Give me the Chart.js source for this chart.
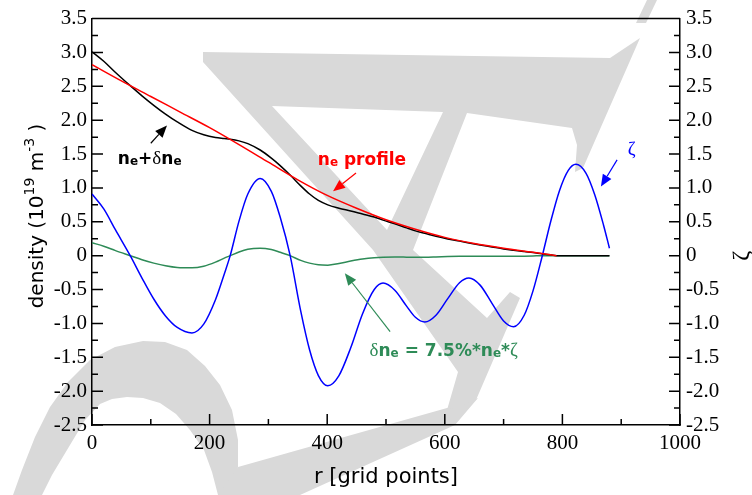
<!DOCTYPE html>
<html>
<head>
<meta charset="utf-8">
<script src="https://cdn.jsdelivr.net/npm/chart.js@4.4.1/dist/chart.umd.min.js"></script>
<style>
  html, body { margin: 0; padding: 0; background: #fff; }
  canvas { display: block; }
</style>
</head>
<body>
<canvas id="myChart" width="752" height="495"></canvas>
<script>
// ne profile (red)
const rProfile = [0, 50, 100, 150, 200, 250, 300, 350, 400, 450, 500, 550, 600, 650, 700, 750, 790];
const neProfile = [2.82, 2.58, 2.35, 2.12, 1.89, 1.64, 1.38, 1.12, 0.89, 0.70, 0.53, 0.39, 0.27, 0.18, 0.11, 0.05, 0.0];

// grid points used for zeta, delta ne and ne + delta ne
const rGrid = [0, 20, 40, 65, 85, 105, 125, 145, 170, 190,
  210, 225, 235, 250, 265, 286, 305, 320, 337, 355,
  370, 385, 401, 420, 440, 460, 480, 495, 515, 535,
  550, 566, 585, 605, 625, 641, 660, 680, 700, 717,
  735, 750, 765, 780, 795, 810, 823, 840, 855, 870, 880];

const zeta = [0.91, 0.69, 0.38, 0.0, -0.33, -0.64, -0.89, -1.06, -1.14, -1.01,
  -0.65, -0.27, 0.0, 0.51, 0.91, 1.14, 0.95, 0.57, 0.0, -0.82,
  -1.39, -1.77, -1.92, -1.77, -1.36, -0.86, -0.50, -0.405, -0.51, -0.745,
  -0.91, -0.98, -0.88, -0.635, -0.40, -0.33, -0.435, -0.70, -0.965, -1.05,
  -0.88, -0.52, -0.03, 0.50, 0.96, 1.26, 1.35, 1.22, 0.90, 0.45, 0.11];

const deltaNe = [0.19, 0.14, 0.075, 0.0, -0.06, -0.11, -0.15, -0.175, -0.18, -0.155,
  -0.095, -0.036, 0.0, 0.055, 0.095, 0.11, 0.09, 0.05, 0.0, -0.07,
  -0.11, -0.135, -0.14, -0.115, -0.08, -0.05, -0.03, -0.022, -0.02, -0.022,
  -0.024, -0.024, -0.02, -0.014, -0.01, -0.008, -0.008, -0.009, -0.01, -0.009,
  -0.007, -0.004, 0.0, 0.0, 0.0, 0.0, 0.0, 0.0, 0.0, 0.0, 0.0];

const neTotal = [3.01, 2.87, 2.705, 2.51, 2.36, 2.22, 2.09, 1.975, 1.85, 1.785,
  1.745, 1.73, 1.72, 1.695, 1.655, 1.56, 1.44, 1.33, 1.19, 1.03,
  0.91, 0.815, 0.75, 0.70, 0.66, 0.615, 0.57, 0.525, 0.47, 0.41,
  0.366, 0.33, 0.286, 0.247, 0.215, 0.188, 0.158, 0.129, 0.10, 0.08,
  0.061, 0.046, 0.028, 0.012, 0.0, 0.0, 0.0, 0.0, 0.0, 0.0, 0.0];

// axis ranges and tick spacing
const xRange = [0, 1000];
const yRange = [-2.5, 3.5];
const xMajor = 200, xMinor = 100;
const yMajor = 0.5, yMinor = 0.25;

const GREEN = '#2e8b57';
const TICK_FONT = 'Liberation Serif';
const SANS = 'DejaVu Sans';

function pairs(xs, ys) {
  return xs.map((x, i) => ({ x: x, y: ys[i] }));
}

// draw a run of text pieces with mixed size/weight, returns width
function richText(ctx, x, y, parts, measureOnly) {
  let cx = x;
  parts.forEach(p => {
    ctx.font = p.font;
    if (!measureOnly) ctx.fillText(p.t, cx, y + (p.dy || 0));
    cx += ctx.measureText(p.t).width;
  });
  return cx - x;
}

const B = 'bold 17px "' + SANS + '"';
const S = 'bold 12px "' + SANS + '"';
const G = '19px "Liberation Serif"';

const notes = [
  { color: '#000', at: [44, 1.35], tail: [100, 1.66], head: [127.5, 1.92],
    parts: [{ t: 'n', font: B }, { t: 'e', font: S, dy: 1 }, { t: '+', font: B },
            { t: 'δ', font: G }, { t: 'n', font: B }, { t: 'e', font: S, dy: 1 }] },
  { color: '#ff0000', at: [384, 1.34], tail: [449, 1.22], head: [410, 0.95],
    parts: [{ t: 'n', font: B }, { t: 'e', font: S, dy: 1 }, { t: ' profile', font: B }] },
  { color: '#0000ff', at: [911, 1.49], tail: [893, 1.415], head: [865.5, 1.02],
    parts: [{ t: 'ζ', font: G }] },
  { color: GREEN, at: [472, -1.475], tail: [507, -1.12], head: [430, -0.26],
    parts: [{ t: 'δ', font: G }, { t: 'n', font: B }, { t: 'e', font: S, dy: 1 },
            { t: ' = 7.5%*', font: B }, { t: 'n', font: B }, { t: 'e', font: S, dy: 1 },
            { t: '*', font: B }, { t: 'ζ', font: G }] }
];

// light grey watermark behind the plot
const watermark = {
  id: 'watermark',
  beforeDraw(chart) {
    const ctx = chart.ctx;
    const poly = pts => {
      ctx.moveTo(pts[0][0], pts[0][1]);
      for (let i = 1; i < pts.length; i++) ctx.lineTo(pts[i][0], pts[i][1]);
      ctx.closePath();
    };
    ctx.save();
    ctx.fillStyle = '#d9d9d9';
    ctx.beginPath();
    poly([[13,495],[22,470],[35,437],[50,407],[68,382],[90,360],[115,347],[143,341],[165,342],
          [187,350],[205,366],[220,385],[232,410],[238,440],[238,467],[232,486],[226,495],
          [218,495],[212,472],[204,450],[190,430],[176,414],[160,403],[143,398],[127,397],
          [112,399],[100,404],[85,420],[67,450],[52,475],[42,495]]);
    ctx.fill();
    ctx.beginPath();
    poly([[218,495],[238,467],[447,408],[478,398],[455,425],[300,495]]);
    ctx.fill();
    ctx.beginPath();
    poly([[373,250],[413,250],[487,318],[510,292],[520,298],[476,400],[447,410],[458,372]]);
    ctx.fill();
    ctx.beginPath();
    poly([[203,52],[610,58],[640,38],[583,168],[575,172],[577,145],[572,128],[467,113],
          [413,250],[373,250],[203,62]]);
    poly([[272,106],[443,112],[387,230]]);
    ctx.fill('evenodd');
    ctx.beginPath();
    poly([[636,23],[646,23],[657,0],[647,0]]);
    ctx.fill();
    ctx.restore();
  }
};

// inward ticks, top frame line, axis titles and the labels with arrows
const decorations = {
  id: 'decorations',
  afterDraw(chart) {
    const { ctx, chartArea: a, scales } = chart;
    ctx.save();
    ctx.strokeStyle = '#000';
    ctx.lineWidth = 1.5;
    ctx.beginPath();
    ctx.moveTo(a.left, a.top);
    ctx.lineTo(a.right, a.top);
    for (let v = xRange[0]; v <= xRange[1]; v += xMinor) {
      const x = scales.x.getPixelForValue(v);
      const len = v % xMajor === 0 ? 11 : 6;
      ctx.moveTo(x, a.bottom);
      ctx.lineTo(x, a.bottom - len);
    }
    const n = Math.round((yRange[1] - yRange[0]) / yMinor);
    for (let k = 0; k <= n; k++) {
      const v = yRange[0] + k * yMinor;
      const len = k % Math.round(yMajor / yMinor) === 0 ? 11 : 6;
      const y1 = scales.y.getPixelForValue(v);
      ctx.moveTo(a.left, y1);
      ctx.lineTo(a.left + len, y1);
      const y2 = scales.y2.getPixelForValue(v);
      ctx.moveTo(a.right, y2);
      ctx.lineTo(a.right - len, y2);
    }
    ctx.stroke();

    // axis titles
    ctx.fillStyle = '#000';
    ctx.textBaseline = 'alphabetic';
    ctx.textAlign = 'left';
    ctx.font = '21px "' + SANS + '"';
    const xt = 'r [grid points]';
    ctx.fillText(xt, (a.left + a.right) / 2 - ctx.measureText(xt).width / 2, 483);

    const big = '20px "' + SANS + '"', small = '14px "' + SANS + '"';
    const yParts = [{ t: 'density (10', font: big }, { t: '19', font: small, dy: -9 },
                    { t: ' m', font: big }, { t: '-3', font: small, dy: -9 }, { t: ' )', font: big }];
    ctx.save();
    ctx.translate(43, 216);
    ctx.rotate(-Math.PI / 2);
    const w = richText(ctx, 0, 0, yParts, true);
    richText(ctx, -w / 2, 0, yParts);
    ctx.restore();

    ctx.save();
    ctx.translate(748, scales.y2.getPixelForValue(0));
    ctx.rotate(-Math.PI / 2);
    ctx.font = '24px "Liberation Serif"';
    ctx.textAlign = 'center';
    ctx.fillText('ζ', 0, 0);
    ctx.restore();

    // annotations
    notes.forEach(nt => {
      const ax = scales.y;
      const px = p => [scales.x.getPixelForValue(p[0]), ax.getPixelForValue(p[1])];
      const t = px(nt.at), tl = px(nt.tail), hd = px(nt.head);
      ctx.fillStyle = nt.color;
      ctx.strokeStyle = nt.color;
      ctx.textAlign = 'left';
      richText(ctx, t[0], t[1], nt.parts);
      const ang = Math.atan2(hd[1] - tl[1], hd[0] - tl[0]);
      const L = 12, H = 5;
      const bx = hd[0] - L * Math.cos(ang), by = hd[1] - L * Math.sin(ang);
      ctx.lineWidth = 1.2;
      ctx.beginPath();
      ctx.moveTo(tl[0], tl[1]);
      ctx.lineTo(bx, by);
      ctx.stroke();
      ctx.beginPath();
      ctx.moveTo(hd[0], hd[1]);
      ctx.lineTo(bx + H * Math.sin(ang), by - H * Math.cos(ang));
      ctx.lineTo(bx - H * Math.sin(ang), by + H * Math.cos(ang));
      ctx.closePath();
      ctx.fill();
    });
    ctx.restore();
  }
};

const tickLabel = v => (Math.abs(v) < 1e-9 ? '0' : v.toFixed(1));

const yScale = (pos, width, pad) => ({
  type: 'linear',
  position: pos,
  min: yRange[0],
  max: yRange[1],
  ticks: {
    stepSize: yMajor,
    callback: tickLabel,
    color: '#000',
    padding: pad,
    font: { family: TICK_FONT, size: 21 }
  },
  grid: { display: false, drawTicks: false },
  border: { display: true, color: '#000', width: 1.5 },
  afterFit: s => { s.width = width; }
});

new Chart('myChart', {
  type: 'line',
  data: {
    datasets: [
      { label: 'ne profile', data: pairs(rProfile, neProfile), borderColor: '#ff0000', yAxisID: 'y' },
      { label: 'ne+δne', data: pairs(rGrid, neTotal), borderColor: '#000000', yAxisID: 'y' },
      { label: 'ζ', data: pairs(rGrid, zeta), borderColor: '#0000ff', yAxisID: 'y2' },
      { label: 'δne', data: pairs(rGrid, deltaNe), borderColor: GREEN, yAxisID: 'y' }
    ]
  },
  options: {
    responsive: false,
    animation: false,
    layout: { padding: { top: 15, left: 0, right: 0, bottom: 0 } },
    elements: {
      point: { radius: 0 },
      line: { borderWidth: 1.5, cubicInterpolationMode: 'monotone', fill: false }
    },
    plugins: { legend: { display: false }, tooltip: { enabled: false } },
    scales: {
      x: {
        type: 'linear',
        min: xRange[0],
        max: xRange[1],
        ticks: {
          stepSize: xMajor,
          callback: v => String(v),
          color: '#000',
          padding: 6,
          maxRotation: 0,
          font: { family: TICK_FONT, size: 21 }
        },
        grid: { display: false, drawTicks: false },
        border: { display: true, color: '#000', width: 1.5 },
        afterFit: s => { s.height = 70; }
      },
      y: yScale('left', 92, 5),
      y2: yScale('right', 72, 6)
    }
  },
  plugins: [watermark, decorations]
});
</script>
</body>
</html>
